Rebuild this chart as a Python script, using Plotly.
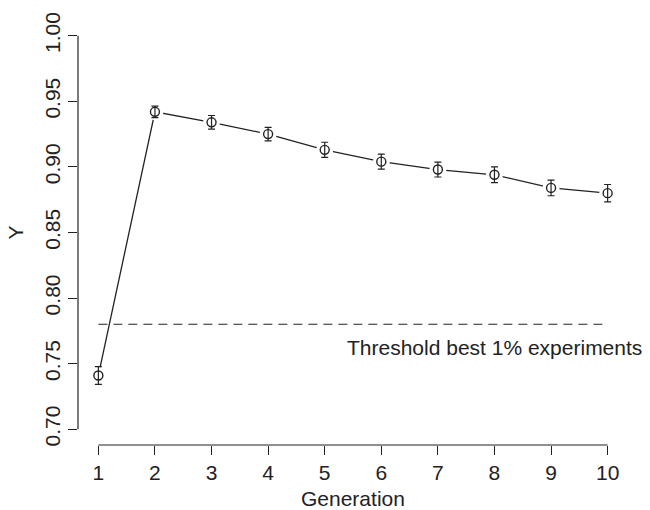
import plotly.graph_objects as go

# Mean Y per generation with error-bar half widths
generation = [1, 2, 3, 4, 5, 6, 7, 8, 9, 10]
y_mean = [0.741, 0.942, 0.934, 0.925, 0.913, 0.904, 0.898, 0.894, 0.884, 0.880]
y_err = [0.0068, 0.0044, 0.0052, 0.0052, 0.0058, 0.0057, 0.0057, 0.0060, 0.0060, 0.0066]

threshold = 0.78
threshold_label = "Threshold best 1% experiments"
label_pos = (8, 0.762)

x_ticks = list(range(1, 11))
y_ticks = [0.70, 0.75, 0.80, 0.85, 0.90, 0.95, 1.00]
y_tick_text = ["0.70", "0.75", "0.80", "0.85", "0.90", "0.95", "1.00"]

INK = "#222222"
FONT = "Liberation Sans, Arial, Helvetica, sans-serif"
FS = 21

# R-style 4% padding around the data range
x_pad = 0.04 * (max(x_ticks) - min(x_ticks))
y_pad = 0.04 * (max(y_ticks) - min(y_ticks))

fig = go.Figure()

# connecting line
fig.add_trace(go.Scatter(
    x=generation, y=y_mean, mode="lines",
    line=dict(color=INK, width=1.3), hoverinfo="skip", showlegend=False))

# white halo so the line stops short of each point (type="b" look)
fig.add_trace(go.Scatter(
    x=generation, y=y_mean, mode="markers",
    marker=dict(symbol="circle", size=17, color="white", line=dict(width=0)),
    hoverinfo="skip", showlegend=False))

# open circles with error bars
fig.add_trace(go.Scatter(
    x=generation, y=y_mean, mode="markers",
    marker=dict(symbol="circle-open", size=9, color=INK, line=dict(width=1.4, color=INK)),
    error_y=dict(type="data", array=y_err, visible=True, color=INK, thickness=1.2, width=3.5),
    showlegend=False))

# threshold line
fig.add_trace(go.Scatter(
    x=[min(x_ticks), max(x_ticks)], y=[threshold, threshold], mode="lines",
    line=dict(color=INK, width=1.1, dash="9px,6px"), hoverinfo="skip", showlegend=False))

# axis lines spanning first to last tick
fig.add_shape(type="line", xref="x", yref="paper", x0=min(x_ticks), x1=max(x_ticks), y0=0, y1=0,
              line=dict(color=INK, width=1.2))
fig.add_shape(type="line", xref="paper", yref="y", x0=0, x1=0, y0=min(y_ticks), y1=max(y_ticks),
              line=dict(color=INK, width=1.2))

fig.add_annotation(x=label_pos[0], y=label_pos[1], xref="x", yref="y", text=threshold_label,
                   showarrow=False, font=dict(family=FONT, size=FS, color=INK),
                   xanchor="center", yanchor="middle")

fig.add_annotation(x=5.5, y=0, xref="x", yref="paper", text="Generation", showarrow=False,
                   font=dict(family=FONT, size=FS, color=INK), xanchor="center", yanchor="middle",
                   yshift=-53)
fig.add_annotation(x=0, y=0.85, xref="paper", yref="y", text="Y", showarrow=False,
                   font=dict(family=FONT, size=FS, color=INK), textangle=-90,
                   xanchor="center", yanchor="middle", xshift=-63)

fig.update_xaxes(range=[min(x_ticks) - x_pad, max(x_ticks) + x_pad], tickvals=x_ticks,
                 ticks="outside", ticklen=9, tickwidth=1.2, tickcolor=INK,
                 showline=False, showgrid=False, zeroline=False,
                 tickfont=dict(family=FONT, size=FS, color=INK))
fig.update_yaxes(range=[min(y_ticks) - y_pad, max(y_ticks) + y_pad], tickvals=y_ticks,
                 ticktext=y_tick_text, tickangle=-90,
                 ticks="outside", ticklen=9, tickwidth=1.2, tickcolor=INK,
                 showline=False, showgrid=False, zeroline=False,
                 tickfont=dict(family=FONT, size=FS, color=INK))

fig.update_layout(width=650, height=510, plot_bgcolor="white", paper_bgcolor="white",
                  margin=dict(l=78, r=22, t=17, b=65), showlegend=False)

fig.write_html("out.html")
